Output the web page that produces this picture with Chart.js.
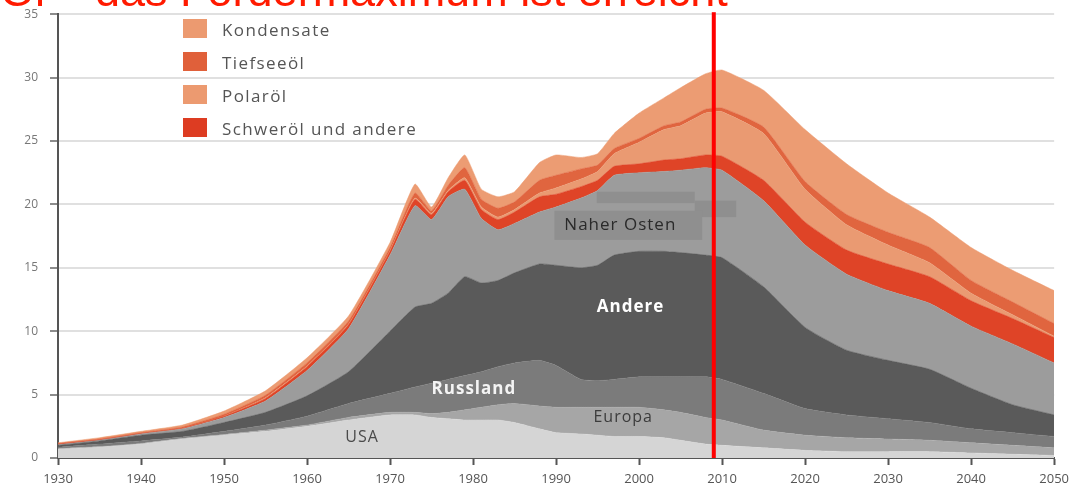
<!DOCTYPE html>
<html lang="de">
<head>
<meta charset="UTF-8">
<title>Öl – das Fördermaximum ist erreicht</title>
<script src="https://cdn.jsdelivr.net/npm/chart.js@4.4.1/dist/chart.umd.min.js"></script>
<style>
  * { box-sizing: border-box; }
  html, body { margin: 0; padding: 0; background: #fff; overflow: hidden; }
  #wrap { position: relative; width: 1075px; height: 489px; overflow: hidden; }
  #chart { position: absolute; left: 0; top: -5px; }
  #title { position: absolute; left: 0; top: -32px; font: 45px "Liberation Sans", Arial, sans-serif; line-height: 45px; color: #ff1a00; white-space: nowrap; z-index: 3; }
  #legend { position: absolute; left: 183px; top: 19px; z-index: 2; }
  .item { position: relative; height: 33px; }
  .swatch { position: absolute; left: 0; top: 0; width: 24px; height: 19px; }
  .label { position: absolute; left: 39px; top: -1px; line-height: 20px; font: 17px "Open Sans", sans-serif; color: #555; letter-spacing: 1.4px; white-space: nowrap; }
</style>
</head>
<body>
<div id="wrap">
  <canvas id="chart" width="1075" height="494"></canvas>
  <div id="title">Öl – das Fördermaximum ist erreicht</div>
  <div id="legend"></div>
</div>
<script>
// years on the x axis
const years = [1930, 1935, 1940, 1945, 1950, 1955, 1960, 1965, 1970, 1973, 1975, 1977, 1979, 1981, 1983, 1985, 1988, 1990, 1993, 1995, 1997, 2000, 2003, 2005, 2008, 2010, 2015, 2020, 2025, 2030, 2035, 2040, 2045, 2050];

// layer thickness (stacked), bottom to top
const usa        = [0.7, 0.85, 1.1, 1.5, 1.8, 2.1, 2.5, 3.0, 3.4, 3.4, 3.2, 3.1, 3.0, 3.0, 3.0, 2.8, 2.3, 2.0, 1.9, 1.8, 1.7, 1.7, 1.6, 1.4, 1.1, 1.0, 0.8, 0.6, 0.5, 0.5, 0.5, 0.4, 0.3, 0.2];
const europa     = [0.05, 0.05, 0.05, 0.05, 0.05, 0.1, 0.1, 0.2, 0.2, 0.2, 0.3, 0.5, 0.8, 1.0, 1.2, 1.5, 1.8, 2.0, 2.1, 2.2, 2.3, 2.3, 2.2, 2.2, 2.1, 2.0, 1.4, 1.2, 1.1, 1.0, 0.9, 0.8, 0.7, 0.6];
const russland   = [0.1, 0.2, 0.2, 0.1, 0.25, 0.4, 0.7, 1.1, 1.5, 2.0, 2.4, 2.6, 2.7, 2.8, 3.0, 3.2, 3.6, 3.3, 2.2, 2.1, 2.2, 2.4, 2.6, 2.8, 3.2, 3.2, 2.9, 2.1, 1.8, 1.6, 1.4, 1.1, 1.0, 0.9];
const andere     = [0.15, 0.25, 0.45, 0.45, 0.7, 1.0, 1.6, 2.5, 4.9, 6.3, 6.3, 6.8, 7.8, 7.0, 6.8, 7.1, 7.6, 7.9, 8.8, 9.1, 9.8, 9.9, 9.9, 9.8, 9.6, 9.6, 8.4, 6.4, 5.1, 4.6, 4.2, 3.2, 2.2, 1.7];
const naherOsten = [0.05, 0.05, 0.1, 0.2, 0.4, 0.9, 2.0, 3.4, 6.0, 8.0, 6.6, 7.6, 6.9, 5.1, 4.0, 3.9, 4.1, 4.6, 5.5, 5.9, 6.3, 6.2, 6.3, 6.5, 6.9, 6.9, 6.8, 6.5, 6.0, 5.5, 5.2, 4.9, 4.8, 4.1];
const schweroel  = [0.05, 0.05, 0.05, 0.05, 0.1, 0.2, 0.3, 0.3, 0.3, 0.5, 0.4, 0.4, 0.7, 0.7, 0.8, 0.9, 1.2, 1.0, 0.9, 0.8, 0.7, 0.7, 0.9, 0.9, 1.0, 1.1, 1.6, 1.8, 1.9, 2.1, 2.1, 2.0, 2.0, 2.0];
const polaroel   = [0, 0, 0, 0, 0, 0.05, 0.05, 0.05, 0.05, 0.1, 0.1, 0.1, 0.2, 0.2, 0.2, 0.2, 0.3, 0.5, 0.6, 0.7, 1.0, 1.7, 2.4, 2.6, 3.3, 3.5, 3.7, 2.6, 2.0, 1.5, 1.1, 0.6, 0.3, 0.1];
const tiefseeoel = [0.05, 0.05, 0.05, 0.1, 0.15, 0.2, 0.25, 0.25, 0.25, 0.4, 0.2, 0.4, 0.8, 0.6, 0.7, 0.6, 1.0, 1.0, 0.8, 0.5, 0.4, 0.3, 0.3, 0.3, 0.3, 0.3, 0.5, 0.6, 0.8, 1.0, 1.2, 1.0, 1.0, 1.0];
const kondensate = [0.05, 0.1, 0.1, 0.15, 0.25, 0.35, 0.4, 0.4, 0.4, 0.7, 0.3, 0.6, 1.0, 0.8, 0.9, 0.8, 1.4, 1.6, 0.9, 0.9, 1.2, 2.0, 2.2, 2.7, 2.8, 3.0, 2.9, 4.1, 4.0, 3.1, 2.4, 2.6, 2.5, 2.6];

const xTicks = [1930, 1940, 1950, 1960, 1970, 1980, 1990, 2000, 2010, 2020, 2030, 2040, 2050];
const yTicks = [0, 5, 10, 15, 20, 25, 30, 35];
const markerYear = 2009;

const layers = [
  { name: "USA", values: usa, color: "#d5d5d5" },
  { name: "Europa", values: europa, color: "#a6a6a6" },
  { name: "Russland", values: russland, color: "#7b7b7b" },
  { name: "Andere", values: andere, color: "#5a5a5a" },
  { name: "Naher Osten", values: naherOsten, color: "#9c9c9c" },
  { name: "Schweröl und andere", values: schweroel, color: "#df4427" },
  { name: "Polaröl", values: polaroel, color: "#ea9a72" },
  { name: "Tiefseeöl", values: tiefseeoel, color: "#e0653f" },
  { name: "Kondensate", values: kondensate, color: "#ec9c73" },
];

const legendNames = ["Kondensate", "Tiefseeöl", "Polaröl", "Schweröl und andere"];
const legendColors = ["#ec9a70", "#e0603a", "#ec9a70", "#dd3c22"];

// html legend
const legendEl = document.getElementById("legend");
legendNames.forEach((n, i) => {
  const d = document.createElement("div");
  d.className = "item";
  d.innerHTML = `<div class="swatch" style="background:${legendColors[i]}"></div><div class="label">${n}</div>`;
  legendEl.appendChild(d);
});

// area labels, left edge in data coordinates
const areaLabels = [
  { text: "Naher Osten", year: 1991.0, value: 18.4, color: "#2a2a2a", bold: false, size: 17, box: [1989.8, 2007.6, 17.2, 19.5] },
  { text: "Andere", year: 1994.9, value: 11.9, color: "#ffffff", bold: true, size: 17 },
  { text: "Russland", year: 1975.0, value: 5.4, color: "#f4f4f4", bold: true, size: 17 },
  { text: "Europa", year: 1994.5, value: 3.2, color: "#3c3c3c", bold: false, size: 16 },
  { text: "USA", year: 1964.6, value: 1.6, color: "#4a4a4a", bold: false, size: 16 },
];

const overlay = {
  id: "overlay",
  afterDatasetsDraw(chart) {
    const { ctx, scales: { x, y } } = chart;
    ctx.save();
    // patches behind "Naher Osten"
    ctx.fillStyle = "#8f8f8f";
    const patch = (x0, x1, v0, v1) => {
      const px0 = x.getPixelForValue(x0), px1 = x.getPixelForValue(x1);
      const py0 = y.getPixelForValue(v1), py1 = y.getPixelForValue(v0);
      ctx.fillRect(px0, py0, px1 - px0, py1 - py0);
    };
    patch(1994.9, 2006.7, 20.1, 21.0);
    patch(2006.7, 2011.7, 19.0, 20.3);
    areaLabels.forEach(l => {
      if (l.box) patch(l.box[0], l.box[1], l.box[2], l.box[3]);
    });
    areaLabels.forEach(l => {
      ctx.font = `${l.bold ? "bold " : ""}${l.size}px "Open Sans", sans-serif`;
      ctx.letterSpacing = "1px";
      ctx.fillStyle = l.color;
      ctx.textAlign = "left";
      ctx.textBaseline = "middle";
      ctx.fillText(l.text, x.getPixelForValue(l.year), y.getPixelForValue(l.value));
    });
    // red marker line, from just under the title to the axis
    const mx = x.getPixelForValue(markerYear);
    const top = y.getPixelForValue(35) - 2;
    ctx.fillStyle = "#ff0000";
    ctx.fillRect(mx - 2, top, 4, y.getPixelForValue(0) - top);
    ctx.restore();
  }
};

new Chart(document.getElementById("chart"), {
  type: "line",
  data: {
    datasets: layers.map((l, i) => ({
      label: l.name,
      data: years.map((yr, k) => ({ x: yr, y: l.values[k] })),
      backgroundColor: l.color,
      borderColor: l.color,
      borderWidth: 0.5,
      pointRadius: 0,
      fill: i === 0 ? "origin" : "-1",
      tension: 0.15,
    }))
  },
  options: {
    responsive: false,
    animation: false,
    events: [],
    layout: { padding: { top: 9, right: 18, left: 0, bottom: 0 } },
    plugins: { legend: { display: false }, tooltip: { enabled: false } },
    scales: {
      x: {
        type: "linear",
        min: 1930,
        max: 2050,
        afterFit: s => { s.height = 31; },
        afterBuildTicks: s => { s.ticks = xTicks.map(v => ({ value: v })); },
        ticks: { callback: v => String(v), color: "#555", font: { family: "Open Sans", size: 13 }, padding: 6, maxRotation: 0 },
        grid: { drawOnChartArea: false, tickLength: 7, tickColor: "#555", tickWidth: 2 },
        border: { color: "#555", width: 2 },
      },
      y: {
        stacked: true,
        min: 0,
        max: 35,
        afterFit: s => { s.width = 58; },
        afterBuildTicks: s => { s.ticks = yTicks.map(v => ({ value: v })); },
        ticks: { color: "#777", font: { family: "Open Sans", size: 12 }, padding: 12 },
        grid: { color: "#e0e0e0", lineWidth: 2, tickLength: 8, tickColor: "#666", tickWidth: 1.5 },
        border: { color: "#555", width: 2 },
      }
    }
  },
  plugins: [overlay]
});
</script>
</body>
</html>
